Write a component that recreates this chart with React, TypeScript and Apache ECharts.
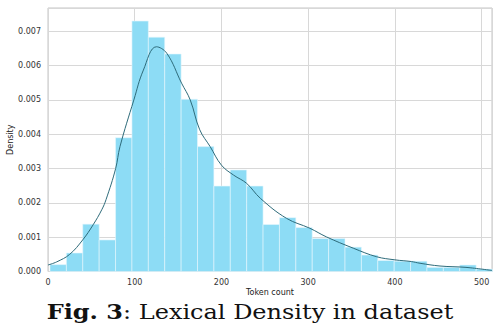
import React, { useEffect, useRef } from "react";
import * as echarts from "echarts";

// Histogram: 27 equal-width bins
const binStart = 2.3;
const binWidth = 18.9;
const binDensity = [
  0.0002, 0.00054, 0.00138, 0.00092, 0.0039, 0.0073, 0.00683, 0.00634, 0.00502,
  0.00364, 0.00249, 0.00296, 0.00249, 0.00137, 0.00157, 0.00128, 0.00096, 0.00096,
  0.00071, 0.00048, 0.00032, 0.0003, 0.0003, 0.00012, 0.00012, 0.00019, 0.00007,
];

// KDE curve (token count, density)
const kdeX = [
  0, 10, 25, 40, 52, 62, 67, 78, 83, 99, 110, 125, 137, 154, 164, 175, 187, 200,
  214, 229, 245, 275, 302, 321, 352, 379, 400, 419, 429, 452, 482, 512,
];
const kdeY = [
  0.00019, 0.00028, 0.0005, 0.00092, 0.00136, 0.0018, 0.0021, 0.003, 0.00364, 0.005,
  0.00587, 0.00655, 0.00636, 0.00549, 0.005, 0.00413, 0.00364, 0.0031, 0.00281,
  0.00257, 0.00213, 0.00155, 0.00126, 0.00101, 0.00068, 0.00043, 0.00034, 0.00029,
  0.00024, 0.00016, 0.00012, 0.00003,
];

const xTicks = [0, 100, 200, 300, 400, 500];
const yMaxValue = 0.00768;
const xMaxValue = 512;
const xLabel = "Token count";
const yLabel = "Density";
const captionBold = "Fig. 3";
const captionRest = ": Lexical Density in dataset";

export default function App() {
  const ref = useRef<HTMLDivElement>(null);
  useEffect(() => {
    if (!ref.current) return;
    const chart = echarts.init(ref.current, undefined, { renderer: "svg" });
    const barData = binDensity.map((d, i) => [
      binStart + i * binWidth,
      binStart + (i + 1) * binWidth,
      d,
    ]);
    const lineData = kdeX.map((x, i) => [x, kdeY[i]]);
    const font = "DejaVu Sans";
    chart.setOption({
      animation: false,
      backgroundColor: "#ffffff",
      grid: {
        left: 48,
        right: 8,
        top: 8,
        bottom: 62.5,
        containLabel: false,
        outerBoundsMode: "none",
        show: true,
        borderColor: "#c4c4c4",
        borderWidth: 1,
        backgroundColor: "transparent",
      },
      xAxis: {
        type: "value",
        min: 0,
        max: xMaxValue,
        interval: 100,
        name: xLabel,
        nameLocation: "middle",
        nameGap: 17,
        nameMoveOverlap: false,
        nameTextStyle: { fontFamily: font, fontSize: 8, color: "#222" },
        axisLine: { show: false },
        axisTick: { show: false },
        axisLabel: {
          fontFamily: font,
          fontSize: 8,
          color: "#333",
          margin: 7,
          showMaxLabel: false,
          formatter: (v: number) => (xTicks.includes(v) ? String(v) : ""),
        },
        splitLine: { show: true, lineStyle: { color: "#d8d8d8", width: 1 } },
      },
      yAxis: {
        type: "value",
        min: 0,
        max: yMaxValue,
        interval: 0.001,
        name: yLabel,
        nameLocation: "middle",
        nameGap: 34,
        nameMoveOverlap: false,
        nameTextStyle: { fontFamily: font, fontSize: 8, color: "#222" },
        axisLine: { show: false },
        axisTick: { show: false },
        axisLabel: {
          fontFamily: font,
          fontSize: 8,
          color: "#333",
          margin: 7,
          showMaxLabel: false,
          formatter: (v: number) => v.toFixed(3),
        },
        splitLine: { show: true, lineStyle: { color: "#d8d8d8", width: 1 } },
      },
      series: [
        {
          type: "custom",
          data: barData,
          encode: { x: [0, 1], y: 2 },
          renderItem: (params: any, api: any) => {
            const p0 = api.coord([api.value(0), api.value(2)]);
            const p1 = api.coord([api.value(1), 0]);
            return {
              type: "rect",
              shape: { x: p0[0], y: p0[1], width: p1[0] - p0[0], height: p1[1] - p0[1] },
              style: { fill: "#8ddcf5", stroke: "#e6f7fd", lineWidth: 0.6 },
            };
          },
          z: 2,
        },
        {
          type: "line",
          data: lineData,
          smooth: 0.4,
          showSymbol: false,
          symbol: "none",
          lineStyle: { color: "#2e6b7a", width: 1 },
          z: 3,
        },
      ],
      graphic: [
        {
          type: "text",
          x: 250,
          y: 312,
          scaleX: 1.2,
          style: {
            text: `{b|${captionBold}}{r|${captionRest}}`,
            align: "center",
            verticalAlign: "middle",
            rich: {
              b: { fontFamily: "DejaVu Serif", fontWeight: "bold", fontSize: 20, fill: "#111" },
              r: { fontFamily: "DejaVu Serif", fontSize: 20, fill: "#111" },
            },
          },
        },
      ],
    });
    return () => chart.dispose();
  }, []);
  return (
    <div
      ref={ref}
      style={{ position: "fixed", left: 0, top: 0, width: 500, height: 334 }}
    />
  );
}
